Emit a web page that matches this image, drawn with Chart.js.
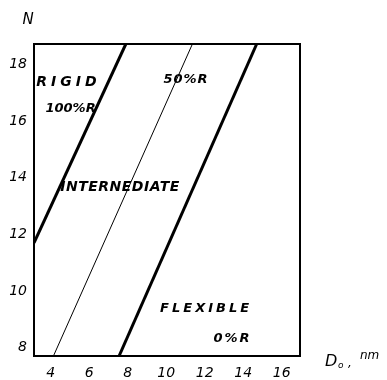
<!DOCTYPE html>
<html>
<head>
<meta charset="utf-8">
<script src="https://cdn.jsdelivr.net/npm/chart.js@4.4.0/dist/chart.umd.min.js"></script>
<style>
  html, body { margin: 0; padding: 0; background: #fff; }
  #wrap { width: 387px; height: 380px; }
</style>
</head>
<body>
<div id="wrap"><canvas id="regimeChart" width="387" height="380"></canvas></div>
<script>
// boundary lines (D0 in nm, N)
const rigidD = [3.13, 7.9];
const rigidN = [11.7, 18.72];
const halfD = [4.14, 11.36];
const halfN = [7.7, 18.72];
const flexD = [7.55, 14.7];
const flexN = [7.7, 18.72];

const xTicks = [4, 6, 8, 10, 12, 14, 16];
const yTicks = [8, 10, 12, 14, 16, 18];

const toPoints = (xs, ys) => xs.map((x, i) => ({ x: x, y: ys[i] }));

const notesPlugin = {
    id: "notes",
    afterDraw(chart) {
        const { ctx, chartArea, scales } = chart;
        const xs = scales.x, ys = scales.y;

        // frame
        ctx.save();
        ctx.strokeStyle = "#000";
        ctx.lineWidth = 2;
        ctx.strokeRect(chartArea.left, chartArea.top,
            chartArea.right - chartArea.left, chartArea.bottom - chartArea.top);
        ctx.restore();

        // text, size, spacing
        const notes = [
            ["RIGID", 4.92, 17.37, 14, "4px"],
            ["100%R", 5.03, 16.45, 13, "0px"],
            ["50%R", 11.03, 17.47, 13, "1px"],
            ["INTERNEDIATE", 7.6, 13.67, 14, "0.5px"],
            ["FLEXIBLE", 12.07, 9.37, 13, "3px"],
            ["0%R", 13.44, 8.33, 13, "2px"]
        ];
        ctx.save();
        ctx.fillStyle = "#000";
        ctx.textAlign = "center";
        ctx.textBaseline = "middle";
        notes.forEach(n => {
            ctx.font = "italic bold " + n[3] + "px 'DejaVu Sans'";
            ctx.letterSpacing = n[4];
            ctx.fillText(n[0], xs.getPixelForValue(n[1]), ys.getPixelForValue(n[2]));
        });
        ctx.letterSpacing = "0px";

        // axis titles
        ctx.font = "italic 15px 'DejaVu Sans'";
        ctx.fillText("N", chartArea.left - 6, chartArea.top - 24);
        ctx.textAlign = "left";
        ctx.font = "italic 16px 'DejaVu Sans'";
        ctx.fillText("D", chartArea.right + 25, chartArea.bottom + 6);
        ctx.font = "italic 9px 'DejaVu Sans'";
        ctx.fillText("o", chartArea.right + 38, chartArea.bottom + 10);
        ctx.font = "italic 12px 'DejaVu Sans'";
        ctx.fillText(",", chartArea.right + 48, chartArea.bottom + 8);
        ctx.fillText("nm", chartArea.right + 60, chartArea.bottom + 0);
        ctx.restore();
    }
};

new Chart(document.getElementById("regimeChart"), {
    type: "scatter",
    data: {
        datasets: [
            {
                label: "100%R",
                data: toPoints(rigidD, rigidN),
                showLine: true,
                borderColor: "#000",
                borderWidth: 3,
                pointRadius: 0
            },
            {
                label: "50%R",
                data: toPoints(halfD, halfN),
                showLine: true,
                borderColor: "#000",
                borderWidth: 1,
                pointRadius: 0
            },
            {
                label: "0%R",
                data: toPoints(flexD, flexN),
                showLine: true,
                borderColor: "#000",
                borderWidth: 3,
                pointRadius: 0
            }
        ]
    },
    options: {
        responsive: false,
        animation: false,
        layout: { padding: { top: 44, right: 87, left: 0, bottom: 0 } },
        plugins: {
            legend: { display: false },
            tooltip: { enabled: false }
        },
        scales: {
            x: {
                type: "linear",
                min: 3.13,
                max: 16.95,
                afterBuildTicks: s => { s.ticks = xTicks.map(v => ({ value: v })); },
                afterFit: s => { s.height = 24; },
                grid: { display: false, drawTicks: true, tickLength: 3 },
                border: { color: "#000", width: 2 },
                ticks: {
                    color: "#000",
                    padding: 6,
                    font: { family: "DejaVu Sans", size: 14, style: "italic" },
                    maxRotation: 0
                }
            },
            y: {
                type: "linear",
                min: 7.7,
                max: 18.72,
                afterBuildTicks: s => { s.ticks = yTicks.map(v => ({ value: v })); },
                afterFit: s => { s.width = 34; },
                grid: { display: false, drawTicks: true, tickLength: 3 },
                border: { color: "#000", width: 2 },
                ticks: {
                    color: "#000",
                    padding: 4,
                    font: { family: "DejaVu Sans", size: 14, style: "italic" }
                }
            }
        }
    },
    plugins: [notesPlugin]
});
</script>
</body>
</html>
